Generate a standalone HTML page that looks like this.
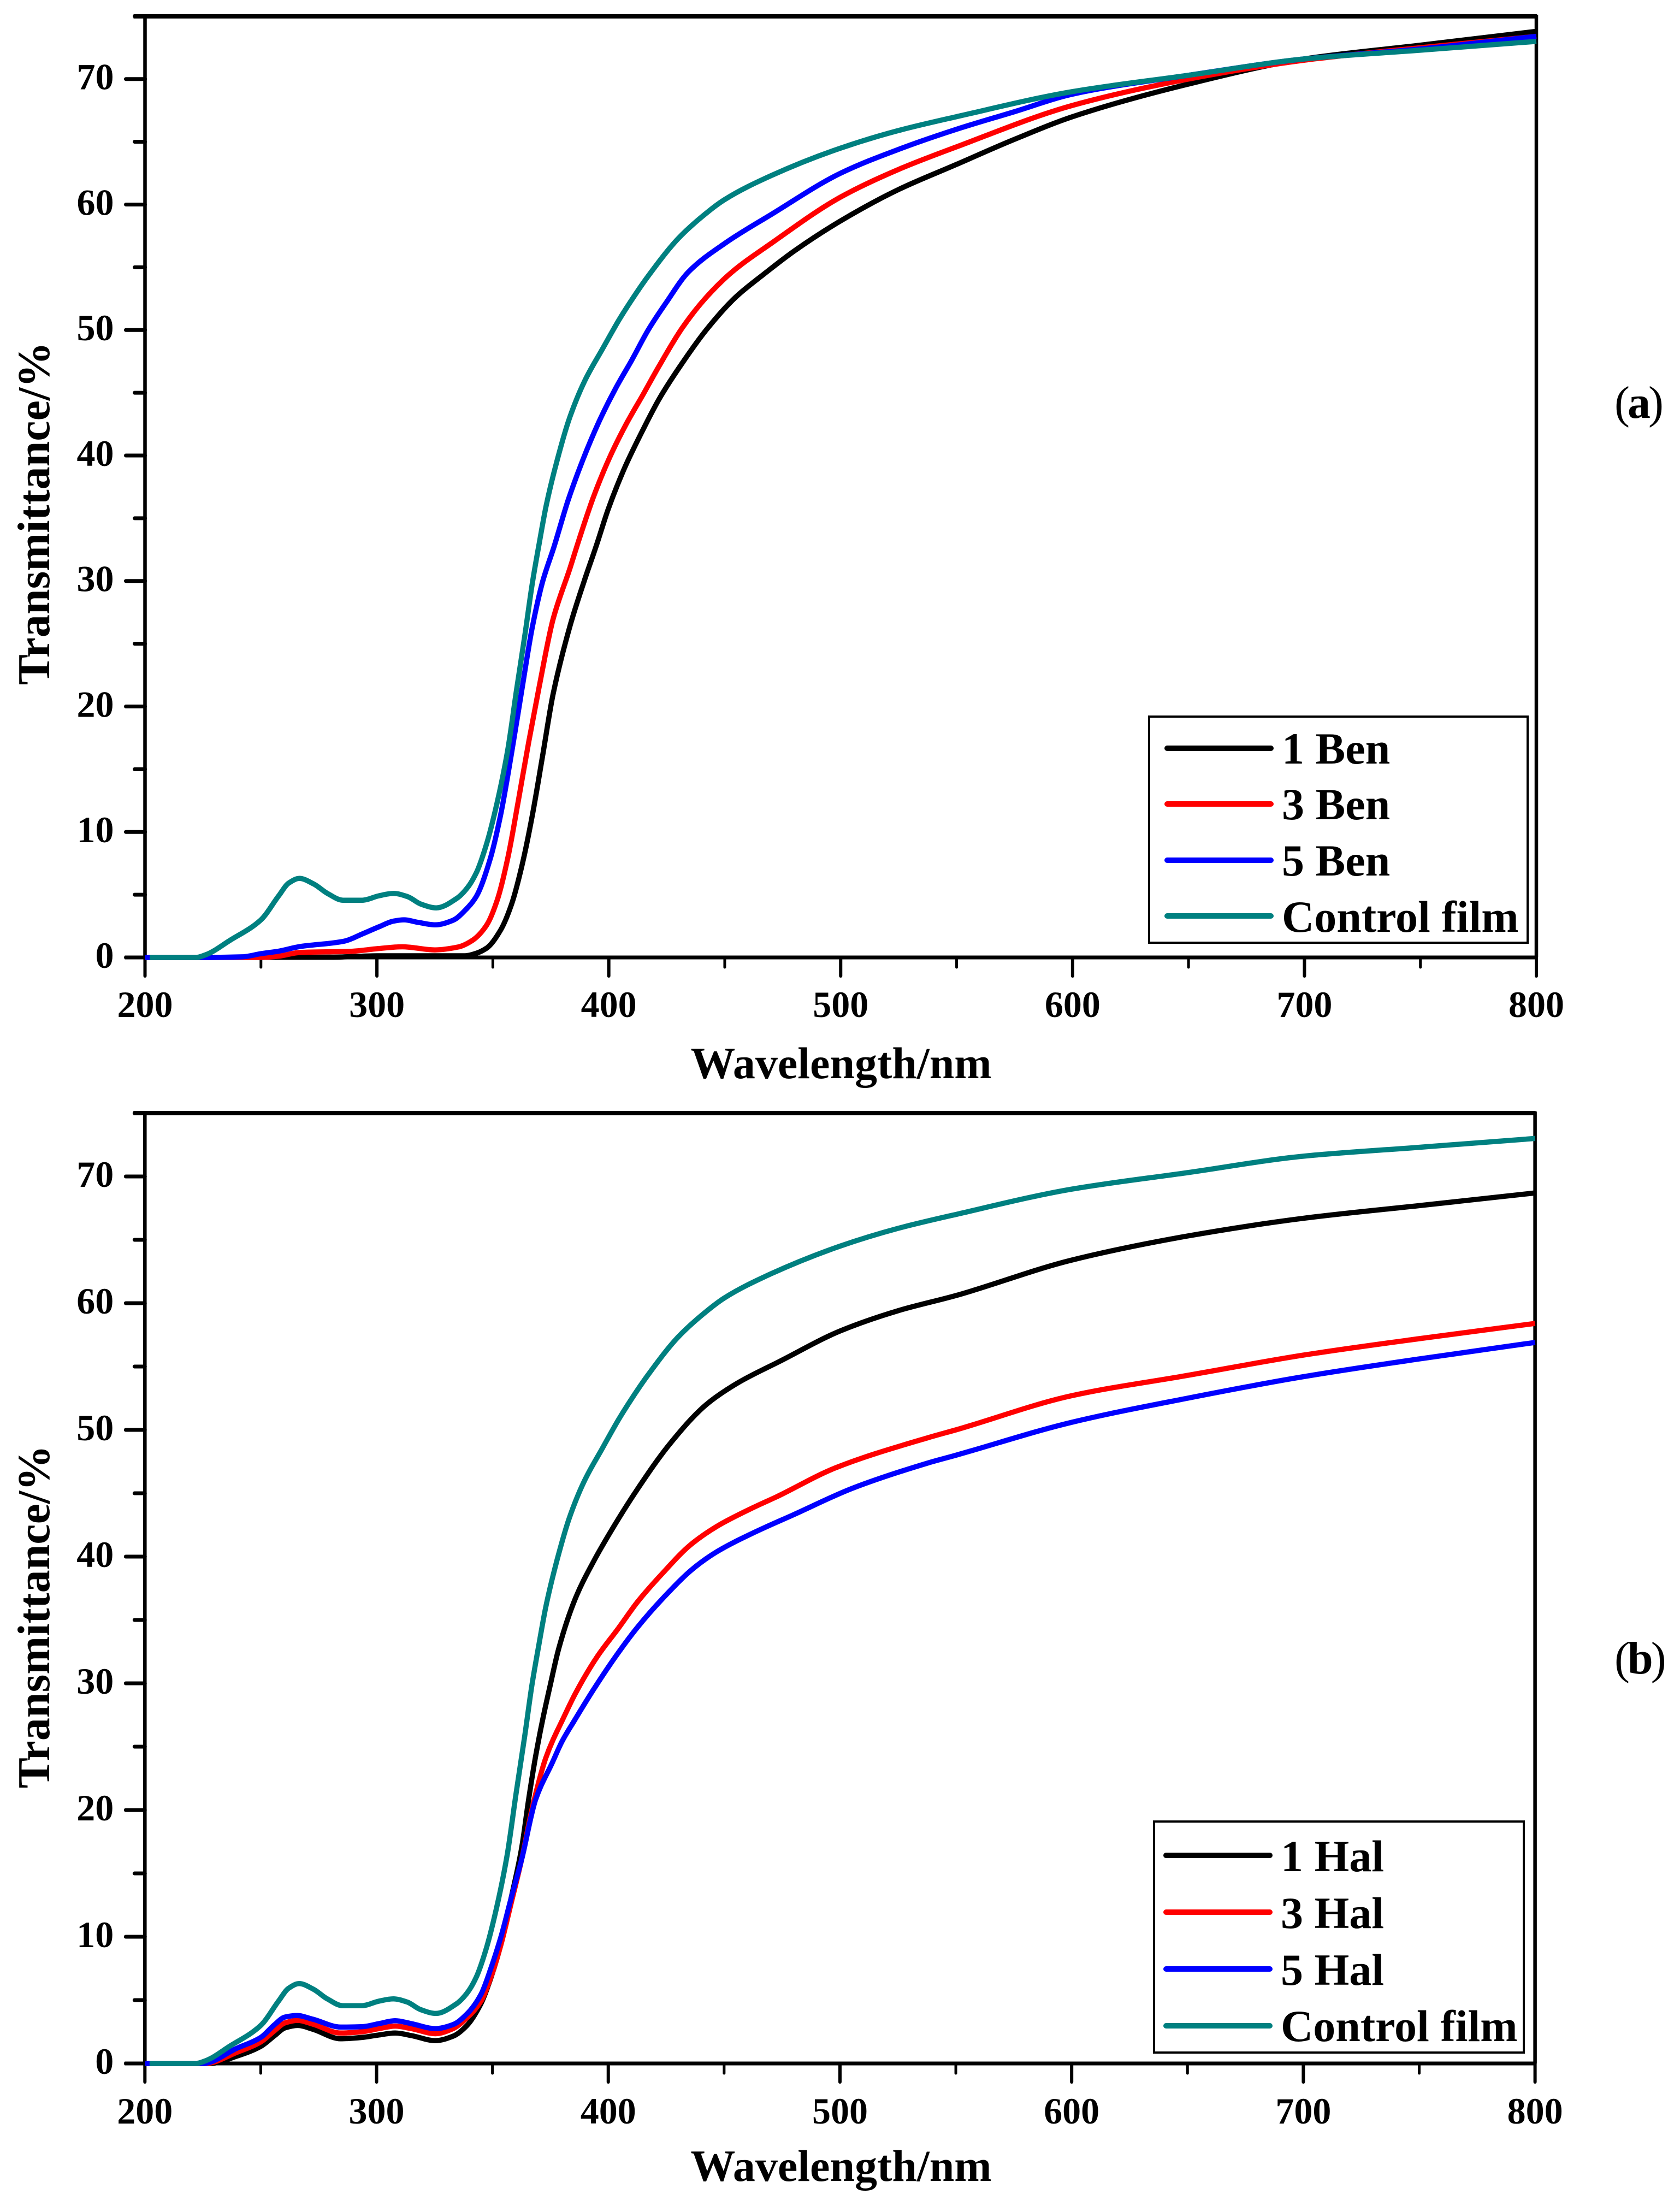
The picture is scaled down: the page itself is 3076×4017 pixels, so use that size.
<!DOCTYPE html>
<html lang="en">
<head>
<meta charset="utf-8">
<title>Transmittance spectra of Ben and Hal films</title>
<style>
html,body{margin:0;padding:0;background:#fff;}
svg{display:block;}
text{font-family:"Liberation Serif",serif;fill:#000;}
</style>
</head>
<body>
<svg id="figure" xmlns="http://www.w3.org/2000/svg" width="3076" height="4017" viewBox="0 0 3076 4017">
<rect x="0" y="0" width="3076" height="4017" fill="#fff"/>
</svg>
<script>
const xTickLabels = [200, 300, 400, 500, 600, 700, 800];
const xMinorTicks = [250, 350, 450, 550, 650, 750];
const yTickLabels = [0, 10, 20, 30, 40, 50, 60, 70];
const yMinorTicks = [5, 15, 25, 35, 45, 55, 65, 75];

const controlFilm = [[202,0],[222,0],[226,0.2],[236.6,1.36],[250,3.0],[257.6,4.9],[262,5.93],[266.6,6.3],[272.7,5.86],[278.7,5.1],[285.4,4.56],[293.7,4.56],[301,4.92],[307.2,5.1],[313.2,4.85],[319,4.25],[325.6,3.95],[334.4,4.7],[338.8,5.5],[343,6.8],[347.3,9.05],[351.8,12.3],[356.4,16.5],[360.2,21.3],[363.9,25.8],[367,29.8],[370,33],[373,36],[377.7,39.6],[383.1,43],[389.5,45.9],[397.3,48.5],[404.4,50.8],[410.6,52.6],[417,54.3],[430,57.3],[440,59],[450,60.4],[470,62.3],[500,64.5],[525,65.9],[550,67],[600,69],[650,70.3],[700,71.6],[750,72.3],[800,73]];

const ben1 = [[200,0],[280,0.02],[300,0.13],[338,0.13],[341.4,0.25],[347.3,0.74],[353.4,2.2],[358,4.2],[362.4,7.2],[366.9,11.2],[371.4,16.0],[375.9,20.9],[383.4,26.5],[389.4,30.0],[394.6,32.8],[399.7,35.7],[406.8,39],[414.6,42],[421.7,44.5],[431.8,47.4],[442,50],[454.6,52.6],[467.2,54.5],[480,56.3],[500,58.7],[525,61.2],[550,63.2],[575,65.2],[600,67],[650,69.6],[700,71.6],[750,72.7],[800,73.8]];
const ben3 = [[200,0],[250,0],[257.6,0.1],[266.6,0.39],[289,0.49],[300.3,0.7],[311,0.85],[325,0.6],[335,0.83],[341.4,1.39],[347.3,2.57],[351.9,4.57],[356.4,7.88],[361,12.5],[365.5,17.2],[369.9,21.5],[375.9,26.9],[383.4,31.1],[386.3,32.8],[393.4,36.7],[400.5,39.9],[407.5,42.5],[414.6,44.8],[421.6,47.1],[431.8,50.2],[442,52.6],[453,54.6],[470,56.9],[500,60.6],[525,62.8],[550,64.6],[600,67.9],[650,70],[700,71.5],[750,72.5],[800,73.4]];
const ben5 = [[200,0],[225,0],[242,0.05],[250,0.3],[257.6,0.5],[266.6,0.86],[286,1.3],[293.7,1.87],[301,2.45],[307.2,2.9],[311.7,3.0],[317.7,2.8],[325.2,2.6],[332.7,2.95],[338.8,3.9],[342.9,4.87],[348.9,7.88],[353.4,11.4],[358,16.2],[362.4,21.2],[366.9,26.2],[371.4,29.9],[376.5,32.8],[382.4,36.4],[388.7,39.6],[395.8,42.7],[402.8,45.3],[409.9,47.6],[417,50],[424.8,52.2],[434.2,54.6],[450,56.9],[470,59.2],[500,62.5],[525,64.4],[550,66],[575,67.4],[600,68.8],[650,70.3],[700,71.6],[750,72.4],[800,73.4]];

const hal1 = [[200,0],[228,0],[240,0.6],[250,1.35],[256,2.2],[260.4,2.8],[266,3.0],[272.5,2.7],[284.5,1.95],[293.6,2.05],[301,2.25],[308,2.4],[315,2.2],[325.4,1.8],[333,2.15],[339,3.0],[345,4.7],[347.5,5.8],[353.6,9.35],[358,13],[362.6,17],[365.6,20.8],[368.6,24.2],[371.6,27.07],[375,29.9],[378.7,32.8],[385.8,36.7],[393.6,39.6],[403.1,42.6],[412.5,45.3],[426.6,48.9],[442.3,52],[455.8,53.7],[473.9,55.4],[500,57.8],[525,59.4],[550,60.6],[600,63.4],[650,65.3],[700,66.7],[750,67.7],[800,68.7]];
const hal3 = [[200,0],[226,0],[240,0.9],[250,1.7],[256,2.6],[260.4,3.2],[266,3.4],[272.5,3.1],[284.5,2.4],[293.6,2.5],[301,2.75],[308,2.95],[315,2.75],[325.4,2.35],[333,2.75],[339,3.6],[345,4.9],[349.5,6.9],[354,9.6],[358,12.6],[362.6,16.1],[367,20],[373,24.1],[381,27.4],[385.8,29.2],[395.2,32.1],[404.6,34.4],[412.5,36.4],[423.5,38.7],[435.3,40.9],[447,42.4],[462.9,43.9],[472.4,44.7],[498,47],[538.3,49.4],[550,50],[600,52.7],[650,54.3],[700,55.9],[750,57.2],[800,58.4]];
const hal5 = [[200,0],[225,0],[239.7,1.2],[250,2.05],[256,3.07],[260.4,3.66],[265.7,3.78],[272.5,3.49],[284.5,2.87],[293.6,2.9],[301.2,3.15],[308,3.37],[314.8,3.15],[325.4,2.75],[333,3.07],[339,3.91],[345,5.43],[349.5,7.6],[354,10.2],[358,13],[362.6,16.1],[368.6,20.8],[376,23.8],[380,25.4],[385.4,27.07],[393.6,29.5],[403.1,32.1],[412.5,34.4],[423.5,36.7],[436.9,39.1],[447,40.4],[462.9,41.9],[479.9,43.3],[505.5,45.4],[538.2,47.4],[550,48],[600,50.6],[650,52.5],[700,54.2],[750,55.6],[800,56.9]];

const benLegendLabels = ['1 Ben', '3 Ben', '5 Ben', 'Control film'];
const halLegendLabels = ['1 Hal', '3 Hal', '5 Hal', 'Control film'];
const seriesColors = ['#000000', '#ff0000', '#0000ff', '#008080'];

const svg = document.getElementById('figure');
const NS = 'http://www.w3.org/2000/svg';

function make(tag, parent, props) {
  const el = document.createElementNS(NS, tag);
  for (const key in props) el.setAttribute(key, props[key]);
  parent.appendChild(el);
  return el;
}

function monotonePath(points) {
  const n = points.length;
  const dx = [], slope = [], tan = [];
  for (let i = 0; i < n - 1; i++) {
    dx[i] = points[i + 1][0] - points[i][0];
    slope[i] = (points[i + 1][1] - points[i][1]) / dx[i];
  }
  tan[0] = slope[0];
  tan[n - 1] = slope[n - 2];
  for (let i = 1; i < n - 1; i++) {
    if (slope[i - 1] * slope[i] <= 0) {
      tan[i] = 0;
    } else {
      const w1 = 2 * dx[i] + dx[i - 1];
      const w2 = dx[i] + 2 * dx[i - 1];
      tan[i] = (w1 + w2) / (w1 / slope[i - 1] + w2 / slope[i]);
    }
  }
  let d = 'M' + points[0][0].toFixed(1) + ' ' + points[0][1].toFixed(1);
  for (let i = 0; i < n - 1; i++) {
    const h = dx[i] / 3;
    d += 'C' + (points[i][0] + h).toFixed(1) + ' ' + (points[i][1] + tan[i] * h).toFixed(1) +
      ' ' + (points[i + 1][0] - h).toFixed(1) + ' ' + (points[i + 1][1] - tan[i + 1] * h).toFixed(1) +
      ' ' + points[i + 1][0].toFixed(1) + ' ' + points[i + 1][1].toFixed(1);
  }
  return d;
}

function drawPanel(cfg) {
  const px = v => cfg.x0 + (v - 200) * (cfg.x1 - cfg.x0) / 600;
  const py = v => cfg.y0 + v * (cfg.y70 - cfg.y0) / 70;
  const panel = make('g', svg, {});
  
  

  const top = py(75);
  const axisProps = {stroke: '#000', fill: 'none'};
  const topAxis = make('line', panel, Object.assign({x1: cfg.x0 - 21, y1: top, x2: cfg.x1 + 1, y2: top, 'stroke-width': 8}, axisProps));
  
  
  const rightAxis = make('line', panel, Object.assign({x1: cfg.x1, y1: top - 3, x2: cfg.x1, y2: py(0), 'stroke-width': 6.5}, axisProps));
  
  
  const leftAxis = make('line', panel, Object.assign({x1: cfg.x0, y1: top, x2: cfg.x0, y2: py(0), 'stroke-width': 6.5}, axisProps));
  
  
  const bottomAxis = make('line', panel, Object.assign({x1: cfg.x0 - 37, y1: py(0), x2: cfg.x1, y2: py(0), 'stroke-width': 7}, axisProps));
  
  

  yTickLabels.forEach(v => {
    const tick = make('line', panel, {x1: cfg.x0 - 35, y1: py(v), x2: cfg.x0, y2: py(v), stroke: '#000', 'stroke-width': 7, 'stroke-linecap': 'round'});
    
    
    const label = make('text', panel, {x: cfg.x0 - 57, y: py(v) + 19, 'text-anchor': 'end', 'font-size': 68, 'font-weight': 'bold'});
    label.textContent = v;
    
    
  });
  yMinorTicks.forEach(v => {
    const tick = make('line', panel, {x1: cfg.x0 - 19, y1: py(v), x2: cfg.x0, y2: py(v), stroke: '#000', 'stroke-width': 7, 'stroke-linecap': 'round'});
    
    
  });
  xTickLabels.forEach(v => {
    const tick = make('line', panel, {x1: px(v), y1: py(0), x2: px(v), y2: py(0) + 34, stroke: '#000', 'stroke-width': 6, 'stroke-linecap': 'round'});
    
    
    const label = make('text', panel, {x: px(v), y: cfg.xLabelBase, 'text-anchor': 'middle', 'font-size': 68, 'font-weight': 'bold'});
    label.textContent = v;
    
    
  });
  xMinorTicks.forEach(v => {
    const tick = make('line', panel, {x1: px(v), y1: py(0), x2: px(v), y2: py(0) + 18, stroke: '#000', 'stroke-width': 5, 'stroke-linecap': 'round'});
    
    
  });

  cfg.series.forEach((data, i) => {
    const pts = data.map(p => [px(p[0]), py(p[1])]);
    const line = make('path', panel, {d: monotonePath(pts), fill: 'none', stroke: seriesColors[i], 'stroke-width': 9.5, 'stroke-linejoin': 'round'});
    
    
  });

  const xTitle = make('text', panel, {x: cfg.xTitleX, y: cfg.xTitleBase, 'text-anchor': 'middle', 'font-size': 82, 'font-weight': 'bold'});
  xTitle.textContent = 'Wavelength/nm';
  
  
  const yTitle = make('text', panel, {transform: 'translate(' + cfg.yTitleX + ' ' + cfg.yTitleY + ') rotate(-90)', 'text-anchor': 'middle', 'font-size': 84, 'font-weight': 'bold'});
  yTitle.textContent = 'Transmittance/%';
  
  

  const legend = make('g', panel, {});
  
  
  const box = make('rect', legend, {x: cfg.legend.x0, y: cfg.legend.y0, width: cfg.legend.x1 - cfg.legend.x0, height: cfg.legend.y1 - cfg.legend.y0, fill: '#fff', stroke: '#000', 'stroke-width': 4});
  
  
  cfg.labels.forEach((text, i) => {
    const sample = make('line', legend, {x1: cfg.legend.sx0, x2: cfg.legend.sx1, y1: cfg.legend.sy[i], y2: cfg.legend.sy[i], stroke: seriesColors[i], 'stroke-width': 10, 'stroke-linecap': 'round'});
    
    
    const label = make('text', legend, {x: cfg.legend.tx, y: cfg.legend.ty[i], 'font-size': 82, 'font-weight': 'bold'});
    label.textContent = text;
    
    
  });

  const tag = make('text', panel, {x: cfg.tagX, y: cfg.tagBase, 'font-size': 84, 'letter-spacing': -4});
  
  
  tag.appendChild(document.createTextNode('('));
  const tagLetter = make('tspan', tag, {'font-weight': 'bold'});
  tagLetter.textContent = cfg.tag;
  tag.appendChild(document.createTextNode(')'));
}

drawPanel({
  id: 'a', x0: 265.5, x1: 2813, y0: 1753, y70: 144.7,
  xLabelBase: 1862, xTitleX: 1540, xTitleBase: 1974, yTitleX: 90, yTitleY: 940,
  series: [ben1, ben3, ben5, controlFilm], labels: benLegendLabels,
  legend: {x0: 2104, x1: 2797, y0: 1312, y1: 1726, sx0: 2137, sx1: 2327, sy: [1370, 1472, 1575, 1677], tx: 2347, ty: [1398, 1500, 1603, 1706]},
  tag: 'a', tagX: 2956, tagBase: 765
});
drawPanel({
  id: 'b', x0: 265.3, x1: 2810.6, y0: 3778, y70: 2154,
  xLabelBase: 3888, xTitleX: 1540, xTitleBase: 3993, yTitleX: 90, yTitleY: 2960,
  series: [hal1, hal3, hal5, controlFilm], labels: halLegendLabels,
  legend: {x0: 2113, x1: 2790, y0: 3335, y1: 3758, sx0: 2135, sx1: 2325, sy: [3397, 3501, 3605, 3709], tx: 2345, ty: [3426, 3530, 3634, 3737]},
  tag: 'b', tagX: 2956, tagBase: 3064
});
</script>
</body>
</html>
